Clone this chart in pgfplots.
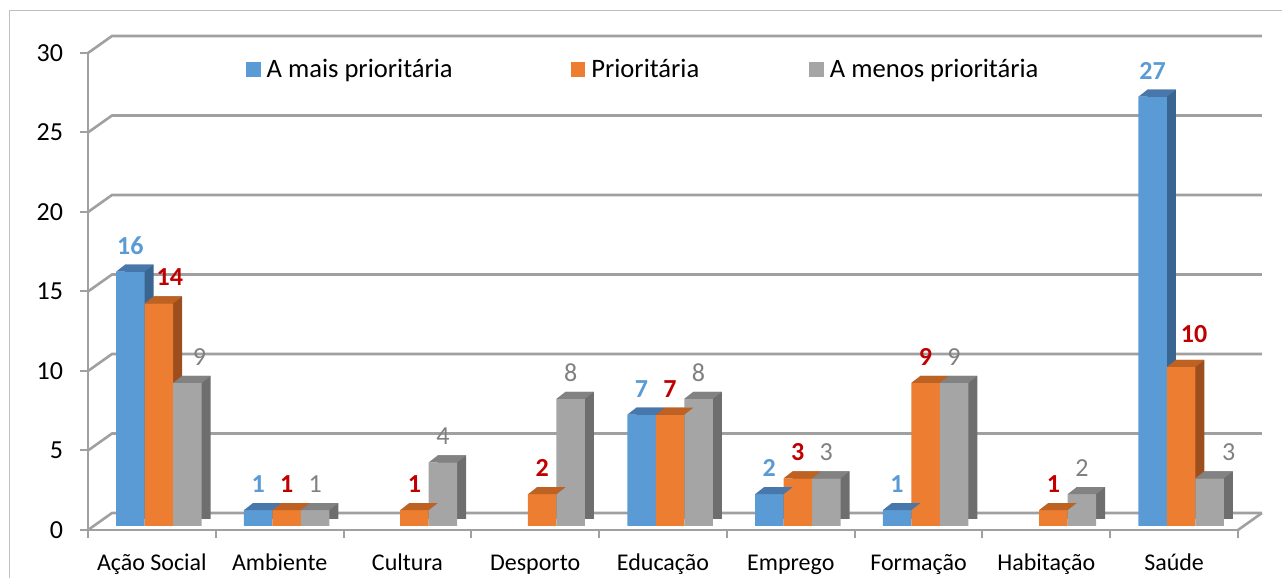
\documentclass[border=0pt]{standalone}
\usepackage{fontspec}
\setmainfont{Carlito}
\usepackage{pgfplots}
\usepackage{pgfplotstable}
\pgfplotsset{compat=1.18}

\definecolor{cblue}{HTML}{5B9BD5}
\definecolor{cblueT}{HTML}{4777AB}
\definecolor{cblueS}{HTML}{3A6591}
\definecolor{corange}{HTML}{ED7D31}
\definecolor{corangeT}{HTML}{BE6224}
\definecolor{corangeS}{HTML}{9C4E1E}
\definecolor{cgrey}{HTML}{A5A5A5}
\definecolor{cgreyT}{HTML}{828282}
\definecolor{cgreyS}{HTML}{6E6E6E}
\definecolor{cred}{HTML}{C00000}
\definecolor{ctxtgrey}{HTML}{808080}
\definecolor{gridc}{HTML}{A0A0A0}
\definecolor{framec}{HTML}{BFBFBF}

\pgfdeclareplotmark{topface}{%
  \pgfpathmoveto{\pgfqpoint{-7.125pt}{0pt}}%
  \pgfpathlineto{\pgfqpoint{-2.625pt}{3.5pt}}%
  \pgfpathlineto{\pgfqpoint{11.625pt}{3.5pt}}%
  \pgfpathlineto{\pgfqpoint{7.125pt}{0pt}}%
  \pgfpathclose\pgfusepathqfill}

\pgfplotstableread{
x a   b  c dxb dyb dxc
0 16  14 9 5.5 0   6
1 1   1  1 0   0   0
2 nan 1  4 0   0   0
3 nan 2  8 0   0   0
4 7   7  8 0   0   0
5 2   3  3 0   0   0
6 1   9  9 0   0   0
7 nan 1  2 0   0   0
8 27  10 3 6.5 3.5 9.5
}\data

\begin{document}
\begin{tikzpicture}
\useasboundingbox (0,0) rectangle (641pt,289pt);
\draw[framec, line width=0.5pt] (4.5pt,-5pt) -- (4.5pt,283.5pt) -- (660pt,283.5pt);
\begin{axis}[
  at={(44pt,24pt)}, anchor=south west,
  width=575pt, height=238.5pt, scale only axis,
  xmin=-0.5, xmax=8.5, ymin=0, ymax=30,
  clip=false,
  axis x line*=bottom, axis y line*=left,
  axis line style={-, draw=gridc, line width=1pt},
  /pgf/number format/assume math mode=true,
  xtick={-0.5,0.5,1.5,2.5,3.5,4.5,5.5,6.5,7.5,8.5},
  xticklabels={},
  extra x ticks={0,1,2,3,4,5,6,7,8},
  extra x tick labels={Ação Social, Ambiente, Cultura, Desporto, Educação, Emprego, Formação, Habitação, Saúde},
  extra x tick style={major tick length=0pt},
  ytick={0,5,10,15,20,25,30},
  tick align=outside,
  major tick length=4pt,
  every tick/.style={gridc, line width=1pt},
  x tick label style={font=\fontsize{12}{14}\selectfont, anchor=base, yshift=-20.5pt},
  y tick label style={font=\fontsize{13}{15}\selectfont, xshift=-5pt},
  legend image code/.code={\fill[#1] (0pt,-3.65pt) rectangle (7.3pt,3.65pt);},
  legend style={at={(0.1374,0.9654)}, anchor=west, draw=none, fill=none,
    inner sep=0pt, outer sep=0pt, font=\fontsize{13.3}{15}\selectfont,
    nodes={inner sep=0pt},
    /tikz/column 1/.style={column sep=3pt},
    /tikz/column 2/.style={column sep=59pt},
    /tikz/column 3/.style={column sep=3pt},
    /tikz/column 4/.style={column sep=55pt},
    /tikz/column 5/.style={column sep=3pt}},
  legend columns=3, legend cell align=left,
]
\pgfplotsinvokeforeach{0,5,10,15,20,25,30}{
  \draw[gridc, line width=1.3pt] (axis cs:-0.5,#1) -- ++(12pt,8.5pt) -- ([shift={(12pt,8.5pt)}]axis cs:8.5,#1);
}
\draw[gridc, line width=1.3pt] (axis cs:8.5,0) -- ++(12pt,8.5pt);

% A mais prioritaria
\addplot[ybar, bar width=14.25pt, bar shift=0pt, fill=cblueS, draw=none, xshift=4.5pt, yshift=5.5pt, forget plot]
  table[x expr=\thisrow{x}-0.168, y=a]{\data};
\addplot[ybar, bar width=14.25pt, bar shift=0pt, fill=cblue, draw=none, yshift=2pt, forget plot,
  nodes near coords,
  every node near coord/.append style={font=\fontsize{13}{15}\selectfont\bfseries, text=cblue, anchor=center, yshift=13pt}]
  table[x expr=\thisrow{x}-0.168, y=a]{\data};
\addplot[only marks, mark=topface, color=cblueT, yshift=2pt, forget plot]
  table[x expr=\thisrow{x}-0.168, y=a]{\data};

% Prioritaria
\addplot[ybar, bar width=14.25pt, bar shift=0pt, fill=corangeS, draw=none, xshift=4.5pt, yshift=5.5pt, forget plot]
  table[x expr=\thisrow{x}+0.055, y=b]{\data};
\addplot[ybar, bar width=14.25pt, bar shift=0pt, fill=corange, draw=none, yshift=2pt, forget plot,
  visualization depends on={\thisrow{dxb}\as\dxb},
  visualization depends on={\thisrow{dyb}\as\dyb},
  nodes near coords,
  every node near coord/.append style={font=\fontsize{13}{15}\selectfont\bfseries, text=cred, anchor=center, yshift=13pt, xshift=\dxb pt, yshift=\dyb pt}]
  table[x expr=\thisrow{x}+0.055, y=b]{\data};
\addplot[only marks, mark=topface, color=corangeT, yshift=2pt, forget plot]
  table[x expr=\thisrow{x}+0.055, y=b]{\data};

% A menos prioritaria
\addplot[ybar, bar width=14.25pt, bar shift=0pt, fill=cgreyS, draw=none, xshift=4.5pt, yshift=5.5pt, forget plot]
  table[x expr=\thisrow{x}+0.278, y=c]{\data};
\addplot[ybar, bar width=14.25pt, bar shift=0pt, fill=cgrey, draw=none, yshift=2pt, forget plot,
  visualization depends on={\thisrow{dxc}\as\dxc},
  nodes near coords,
  every node near coord/.append style={font=\fontsize{13}{15}\selectfont, text=ctxtgrey, anchor=center, yshift=13pt, xshift=\dxc pt}]
  table[x expr=\thisrow{x}+0.278, y=c]{\data};
\addplot[only marks, mark=topface, color=cgreyT, yshift=2pt, forget plot]
  table[x expr=\thisrow{x}+0.278, y=c]{\data};

\addlegendimage{fill=cblue, draw=none}
\addlegendentry{A mais prioritária}
\addlegendimage{fill=corange, draw=none}
\addlegendentry{Prioritária}
\addlegendimage{fill=cgrey, draw=none}
\addlegendentry{A menos prioritária}
\end{axis}
\end{tikzpicture}
\end{document}
